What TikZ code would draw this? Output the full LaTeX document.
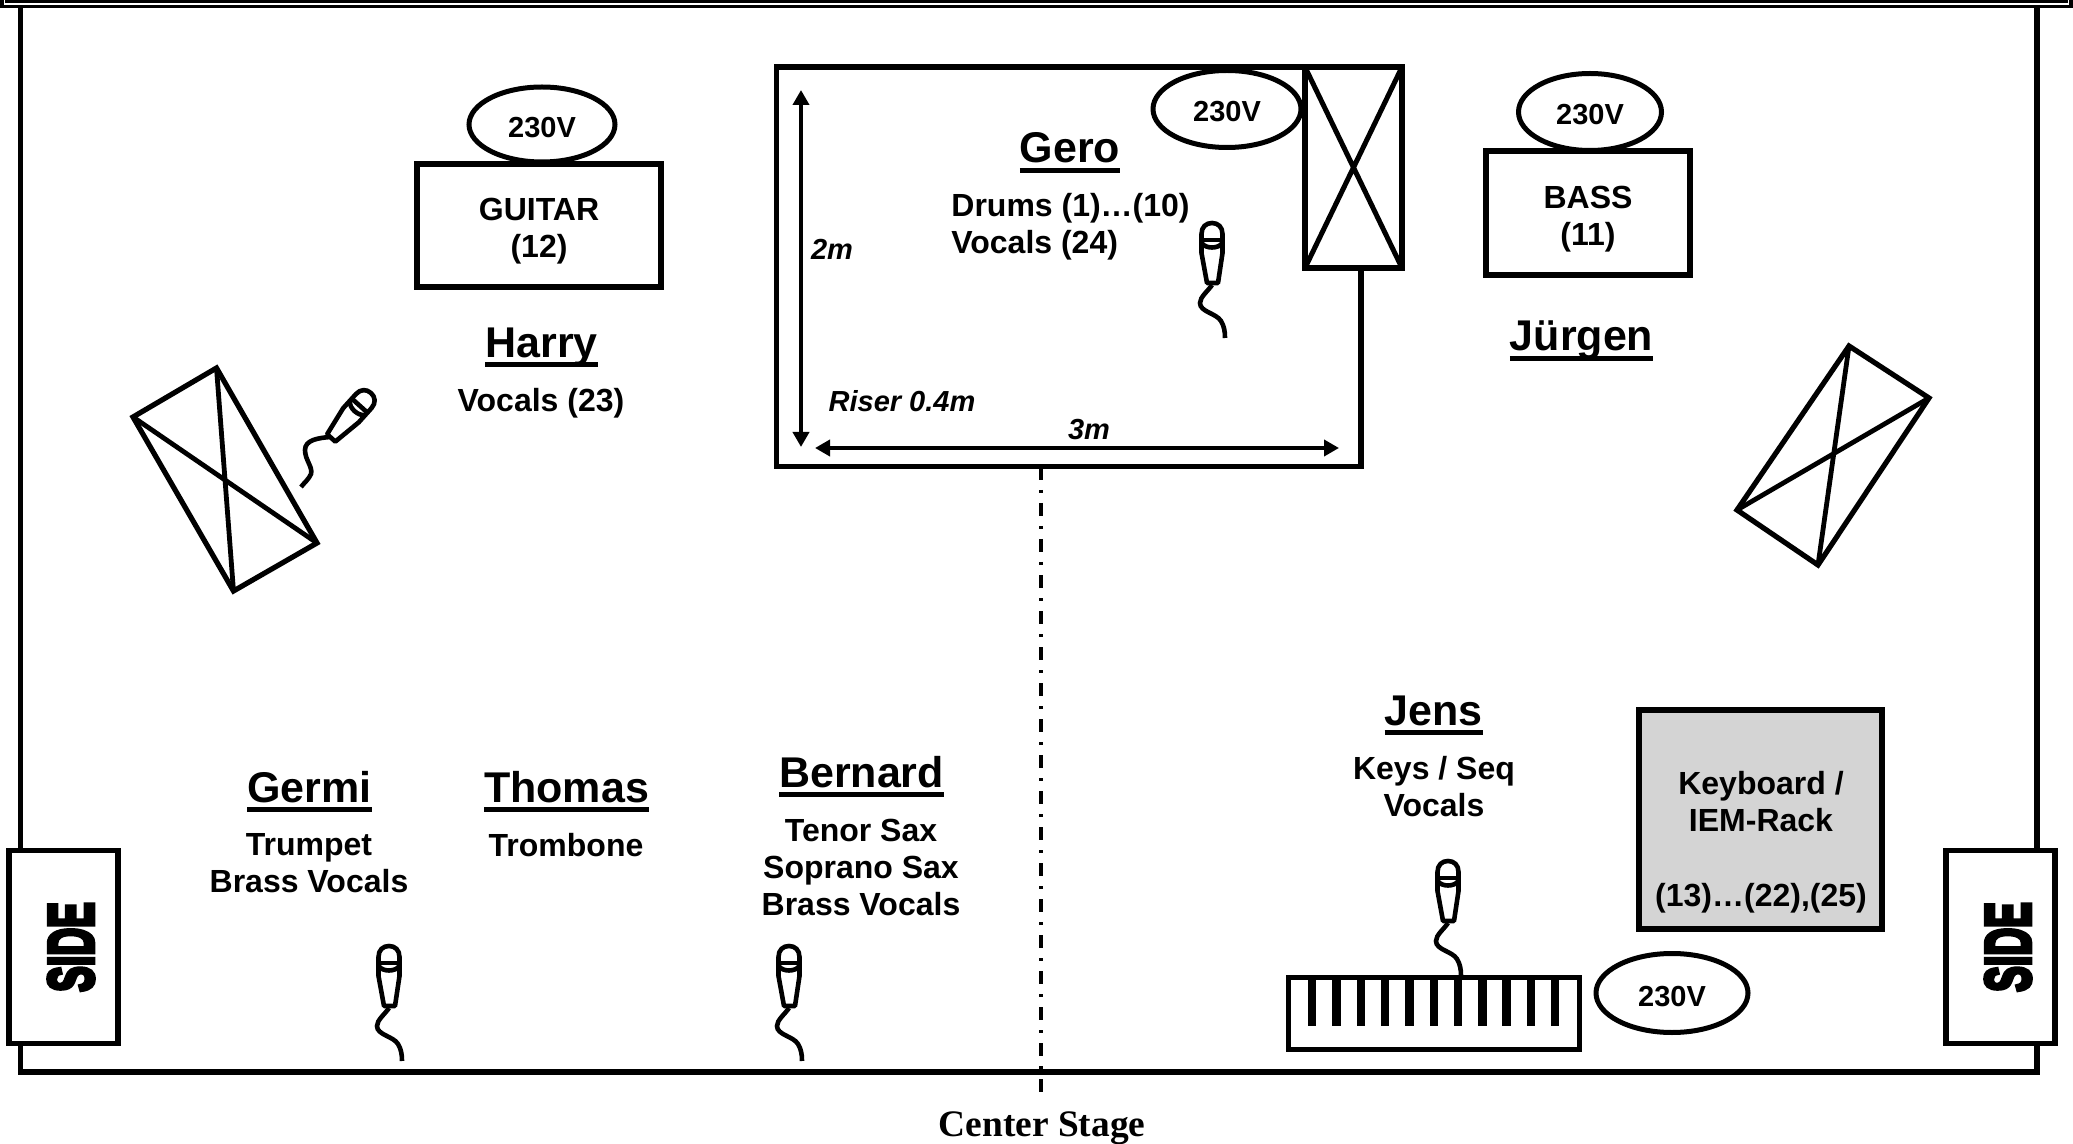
\documentclass[tikz,border=0pt]{standalone}
\usepackage{fontspec}
\setmainfont{Liberation Sans}
\newfontfamily\tnrfont{Liberation Serif}
\newfontfamily\sidefont[BoldFeatures={FakeBold=7}]{Liberation Sans}
\usetikzlibrary{shapes.geometric,arrows.meta}
\newsavebox\nmbox
\newcommand\nameul[1]{\sbox\nmbox{#1}\usebox\nmbox\llap{\rule[-4.8pt]{\wd\nmbox}{2.5pt}}}
\tikzset{
  heavy/.style={line width=2.6pt,line join=miter},
  bodytext/.style={font=\bfseries\fontsize{16}{18.5}\selectfont,align=center,inner sep=0pt},
  lefttext/.style={font=\bfseries\fontsize{16}{18.5}\selectfont,align=left,inner sep=0pt},
  nametext/.style={font=\bfseries\fontsize{21.5}{24}\selectfont,inner sep=0pt,anchor=base},
  dimtext/.style={font=\bfseries\itshape\fontsize{14.5}{17}\selectfont,inner sep=0pt},
  socket/.style={draw,ellipse,line width=2.5pt,inner sep=0pt,text height=13pt,text depth=0pt,font=\bfseries\fontsize{14.5}{17}\selectfont},
  boxnode/.style={draw,heavy,inner sep=0pt},
  dimarrow/.style={line width=2.4pt,{Triangle[length=7.5pt,width=8pt]}-{Triangle[length=7.5pt,width=8pt]}},
  sidebox/.style={draw,heavy,fill=white,minimum width=54.5pt,minimum height=96.5pt,inner sep=0pt},
  sidelabel/.style={inner sep=0pt,rotate=90,font=\sidefont\bfseries\fontsize{32}{32}\selectfont},
  micbody/.pic={
    \draw[line width=2.3pt,line join=round] (-10.5,30) -- (-10.5,11) .. controls (-10.5,4) and (-6,0) .. (0,0) .. controls (6,0) and (10.5,4) .. (10.5,11) -- (10.5,30) -- (6,60) -- (-5,60) -- cycle;
    \draw[line width=2.3pt] (-10.5,17) -- (10.5,17);
    \draw[line width=2.3pt] (-10.5,20) .. controls (-6,26) and (6,26) .. (10.5,20);
  },
  miccable/.pic={
    \draw[line width=2.3pt] (0,62) .. controls (-4,68) and (-12,74) .. (-12,80) .. controls (-12,89) and (4,90) .. (9,98) .. controls (12,103) and (13,108) .. (13,115);
  }
}
\begin{document}
\begin{tikzpicture}[x=0.5pt,y=-0.5pt]
\useasboundingbox (0,0) rectangle (2073,1144);
\fill[white] (0,0) rectangle (2073,1144);
% top double edge
\draw[heavy,line width=1.8pt] (2,-2) -- (2,6.5) -- (2071,6.5) -- (2071,-2);
\draw[heavy,line width=2pt] (7,-2) -- (7,1.5) -- (2066,1.5) -- (2066,-2);
% stage walls
\draw[heavy] (20.5,6) -- (20.5,1072) -- (2037,1072) -- (2037,6);
% centre line
\coordinate (cstop) at (1041,467);
\coordinate (csbot) at (1041,1092);
\draw[line width=1.7pt,dash pattern=on 6.5pt off 5pt on 1.5pt off 5pt] (cstop) -- (csbot);
\node[font=\tnrfont\bfseries\fontsize{18.7}{22}\selectfont,inner sep=0pt] (center) at (1042,1128) {Center Stage};
% side fills
\node[sidebox] (sideL) at (63.5,947) {};
\node[sidebox] (sideR) at (2000.5,947) {};
\node[sidelabel] (sideLtxt) at (71,947) {\scalebox{0.6}[1]{SIDE}};
\node[sidelabel] (sideRtxt) at (2008,947) {\scalebox{0.6}[1]{SIDE}};
% riser
\node[socket,minimum width=74pt,minimum height=38.5pt] (s2) at (1227,109) {230V};
\draw[heavy] (776.5,67) rectangle (1361,466.5);
\node[draw,heavy,fill=white,outer sep=0pt,minimum width=48.5pt,minimum height=100.5pt,inner sep=0pt] (drumspk) at (1353.5,167.5) {};
\draw[line width=2.5pt] (drumspk.north west) -- (drumspk.south east) (drumspk.north east) -- (drumspk.south west);
\coordinate (vt) at (801,90);
\coordinate (vb) at (801,447);
\coordinate (hl) at (815,448);
\coordinate (hr) at (1339,448);
\draw[dimarrow] (vt) -- (vb);
\draw[dimarrow] (hl) -- (hr);
\node[dimtext] (d2m) at (832,249) {2m};
\node[dimtext] (riser) at (902,401) {Riser 0.4m};
\node[dimtext] (d3m) at (1089,430) {3m};
\node[nametext] (gero) at (1070,163) {\nameul{Gero}};
\node[lefttext,anchor=north west] (gerotxt) at (951,193) {Drums (1)…(10)\\Vocals (24)};
% guitar
\node[socket,minimum width=73pt,minimum height=37.5pt] (s1) at (542,124.5) {230V};
\node[boxnode,fill=white,minimum width=122pt,minimum height=61.5pt] (guitar) at (539,225.5) {};
\node[bodytext] (guitartxt) at (539,231) {GUITAR\\(12)};
\node[nametext] (harry) at (541.5,357.5) {\nameul{Harry}};
\node[bodytext] (harrytxt) at (541,403.5) {Vocals (23)};
% bass
\node[socket,minimum width=71.5pt,minimum height=38.5pt] (s3) at (1590,112) {230V};
\node[boxnode,fill=white,minimum width=102pt,minimum height=62pt] (bass) at (1588,213) {};
\node[bodytext] (basstxt) at (1588,219.5) {BASS\\(11)};
\node[nametext] (juergen) at (1581.5,351) {\nameul{Jürgen}};
% speakers
\coordinate (la) at (216.5,368);
\coordinate (lb) at (133,417);
\coordinate (lc) at (233.5,591);
\coordinate (ld) at (317,543);
\draw[heavy,line join=miter] (la) -- (lb) -- (lc) -- (ld) -- cycle;
\draw[heavy,line width=2.4pt] (la) -- (lc) (lb) -- (ld);
\coordinate (ra) at (1849,346);
\coordinate (rb) at (1929,398);
\coordinate (rc) at (1818,565);
\coordinate (rd) at (1737,510);
\draw[heavy,line join=miter] (ra) -- (rb) -- (rc) -- (rd) -- cycle;
\draw[heavy,line width=2.4pt] (ra) -- (rc) (rb) -- (rd);
% microphones
\pic[rotate=-42] at (371,393) {micbody};
\draw[line width=2.3pt] (330,437) .. controls (318,438) and (305,440) .. (305,450) .. controls (305,460) and (313,467) .. (311,474) .. controls (309,479) and (304,483) .. (301,487);
\pic at (1212,223) {micbody};
\pic at (1212,223) {miccable};
\pic at (389,946) {micbody};
\pic at (389,946) {miccable};
\pic at (789,946) {micbody};
\pic at (789,946) {miccable};
\pic at (1448,861) {micbody};
\pic at (1448,861) {miccable};
% front row
\node[nametext] (germi) at (309.5,802) {\nameul{Germi}};
\node[bodytext,anchor=north] (germitxt) at (309,833) {Trumpet\\Brass Vocals};
\node[nametext] (thomas) at (566.5,802) {\nameul{Thomas}};
\node[bodytext,anchor=north] (thomastxt) at (566,833) {Trombone};
\node[nametext] (bernard) at (861.5,787) {\nameul{Bernard}};
\node[bodytext,anchor=north] (bernardtxt) at (861,818.5) {Tenor Sax\\Soprano Sax\\Brass Vocals};
\node[nametext] (jens) at (1433.5,725) {\nameul{Jens}};
\node[bodytext,anchor=north] (jenstxt) at (1434,756) {Keys / Seq\\Vocals};
% rack
\node[draw,heavy,fill=black!17,minimum width=121.5pt,minimum height=109.5pt,inner sep=0pt] (rack) at (1760.5,819.5) {};
\node[bodytext,anchor=north] (racktxt1) at (1761,770.5) {Keyboard /\\IEM-Rack};
\node[bodytext] (racktxt2) at (1761,898) {(13)…(22),(25)};
% keyboard
\draw[heavy,line width=2.5pt] (1288,977) rectangle (1579.5,1049);
\foreach \i in {0,...,10} \fill ({1308+24.3*\i},977) rectangle ({1316.4+24.3*\i},1026);
\node[socket,minimum width=76pt,minimum height=39.5pt] (s4) at (1672,993) {230V};
\end{tikzpicture}
\end{document}
